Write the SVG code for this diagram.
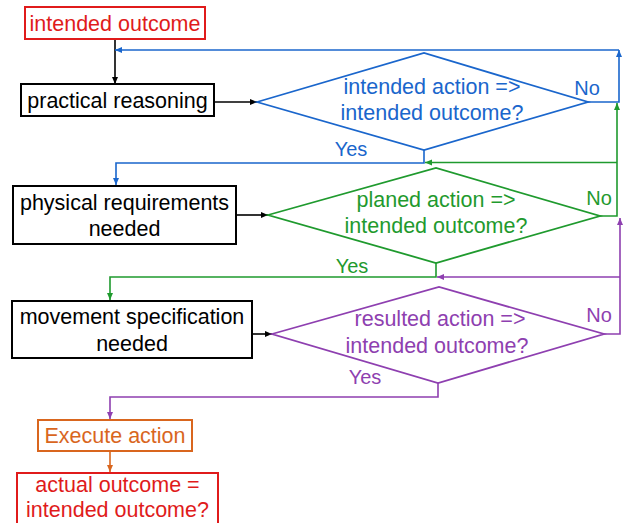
<svg xmlns="http://www.w3.org/2000/svg" width="623" height="523" viewBox="0 0 623 523">
<style>
text{font-family:"Liberation Sans",Arial,sans-serif;font-size:21.5px;text-anchor:middle}
.sm{font-size:20px}
.box{fill:#fff;stroke-width:2}
.dia{fill:#fff;stroke-width:1.8}
.c{fill:none;stroke-width:1.6}
.k{stroke:#000}.b{stroke:#1a66cc}.g{stroke:#1f9a2e}.p{stroke:#8e3fb0}.o{stroke:#d9661e}.r{stroke:#e01b1b}
</style>
<defs>
<marker id="ak" markerWidth="8" markerHeight="8" refX="7" refY="4" orient="auto" markerUnits="userSpaceOnUse"><path d="M0,1 L7,4 L0,7 Z" fill="#000"/></marker>
<marker id="ab" markerWidth="8" markerHeight="8" refX="7" refY="4" orient="auto" markerUnits="userSpaceOnUse"><path d="M0,1 L7,4 L0,7 Z" fill="#1a66cc"/></marker>
<marker id="ag" markerWidth="8" markerHeight="8" refX="7" refY="4" orient="auto" markerUnits="userSpaceOnUse"><path d="M0,1 L7,4 L0,7 Z" fill="#1f9a2e"/></marker>
<marker id="ap" markerWidth="8" markerHeight="8" refX="7" refY="4" orient="auto" markerUnits="userSpaceOnUse"><path d="M0,1 L7,4 L0,7 Z" fill="#8e3fb0"/></marker>
<marker id="ao" markerWidth="8" markerHeight="8" refX="7" refY="4" orient="auto" markerUnits="userSpaceOnUse"><path d="M0,1 L7,4 L0,7 Z" fill="#d9661e"/></marker>
</defs>
<g id="connectors">
<path class="c k" d="M115,39 V84" marker-end="url(#ak)"/>
<path class="c k" d="M214,102 H257" marker-end="url(#ak)"/>
<path class="c k" d="M236,215 H268" marker-end="url(#ak)"/>
<path class="c k" d="M252,334 H272" marker-end="url(#ak)"/>
<path class="c b" d="M588,102 H619 V50" marker-end="url(#ab)"/>
<path class="c b" d="M619,50 H115" marker-end="url(#ab)"/>
<path class="c b" d="M424,150 V163 H116 V185" marker-end="url(#ab)"/>
<path class="c g" d="M600,216 H617 V103" marker-end="url(#ag)"/>
<path class="c g" d="M617,162.5 H425" marker-end="url(#ag)"/>
<path class="c g" d="M436,263 V277 H110 V300" marker-end="url(#ag)"/>
<path class="c p" d="M604,334 H620 V218" marker-end="url(#ap)"/>
<path class="c p" d="M620,277 H437" marker-end="url(#ap)"/>
<path class="c p" d="M438,383 V397 H110 V419" marker-end="url(#ap)"/>
<path class="c o" d="M110,451 V472" marker-end="url(#ao)"/>
<text class="sm" x="587" y="95" fill="#1a66cc">No</text>
<text class="sm" x="351" y="156" fill="#1a66cc">Yes</text>
<text class="sm" x="599" y="205" fill="#1f9a2e">No</text>
<text class="sm" x="352" y="273" fill="#1f9a2e">Yes</text>
<text class="sm" x="599" y="322" fill="#8e3fb0">No</text>
<text class="sm" x="365" y="384" fill="#8e3fb0">Yes</text>
</g>
<g id="intended-outcome">
<rect class="box r" x="25" y="7" width="180" height="32"/>
<text x="115" y="31" fill="#e01b1b">intended outcome</text>
</g>
<g id="practical-reasoning">
<rect class="box k" x="21" y="84" width="193" height="32"/>
<text x="117.5" y="108" fill="#000">practical reasoning</text>
</g>
<g id="decision-intended">
<polygon class="dia b" points="257,102 424,53 588,102 424,150"/>
<text x="432" y="94" fill="#1a66cc">intended action =&gt;</text>
<text x="432" y="120" fill="#1a66cc">intended outcome?</text>
</g>
<g id="physical-requirements">
<rect class="box k" x="13" y="186" width="223" height="58"/>
<text x="124.5" y="210" fill="#000">physical requirements</text>
<text x="124.5" y="236" fill="#000">needed</text>
</g>
<g id="decision-planed">
<polygon class="dia g" points="268,215 436,168 600,216 436,263"/>
<text x="436" y="207" fill="#1f9a2e">planed action =&gt;</text>
<text x="436" y="233" fill="#1f9a2e">intended outcome?</text>
</g>
<g id="movement-specification">
<rect class="box k" x="12" y="301" width="240" height="57"/>
<text x="132" y="324" fill="#000">movement specification</text>
<text x="132" y="351" fill="#000">needed</text>
</g>
<g id="decision-resulted">
<polygon class="dia p" points="272,334 439,287 604,334 438,383"/>
<text x="440" y="326" fill="#8e3fb0">resulted action =&gt;</text>
<text x="437" y="353" fill="#8e3fb0">intended outcome?</text>
</g>
<g id="execute-action">
<rect class="box o" x="38" y="420" width="154" height="31"/>
<text x="115" y="443" fill="#d9661e">Execute action</text>
</g>
<g id="actual-outcome">
<rect class="box r" x="17" y="473" width="201" height="52"/>
<text x="117.5" y="492" fill="#e01b1b">actual outcome =</text>
<text x="117.5" y="517" fill="#e01b1b">intended outcome?</text>
</g>
</svg>
